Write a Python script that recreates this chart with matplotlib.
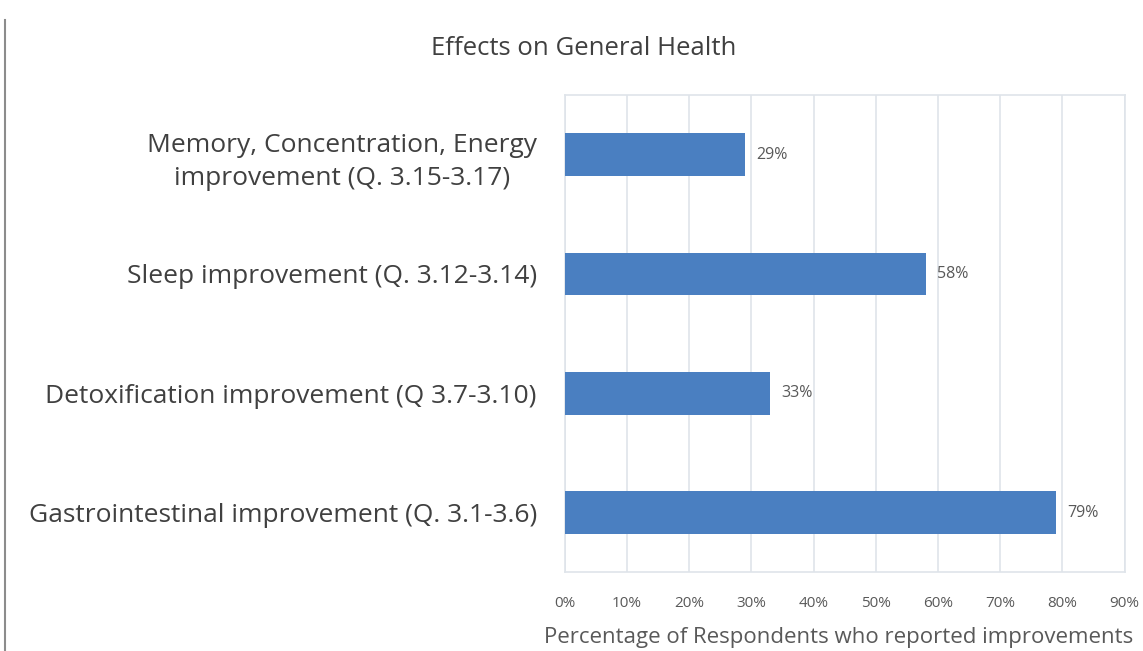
import matplotlib.pyplot as plt
from matplotlib.lines import Line2D
from matplotlib.ticker import FuncFormatter, MultipleLocator

# categories listed top to bottom
categories = [
    "Memory, Concentration, Energy\nimprovement (Q. 3.15-3.17)",
    "Sleep improvement (Q. 3.12-3.14)",
    "Detoxification improvement (Q 3.7-3.10)",
    "Gastrointestinal improvement (Q. 3.1-3.6)",
]
values = [29, 58, 33, 79]
value_labels = ["29%", "58%", "33%", "79%"]

plt.rcParams["font.family"] = ["Open Sans", "DejaVu Sans"]

BAR = "#4a7fc1"
GRID = "#dfe4ea"
TXT = "#404040"

fig = plt.figure(figsize=(11.43, 6.51), dpi=100)
ax = fig.add_axes([0.494, 0.121, 0.49, 0.733])

ypos = list(range(len(categories)))[::-1]
ax.barh(ypos, values, height=0.36, color=BAR, zorder=3)
for y, v, lab in zip(ypos, values, value_labels):
    ax.text(v + 1.8, y, lab, va="center", ha="left", fontsize=11.5, color="#595959")

ax.set_xlim(0, 90)
ax.set_ylim(-0.5, len(categories) - 0.5)
ax.xaxis.set_major_locator(MultipleLocator(10))
ax.xaxis.set_major_formatter(FuncFormatter(lambda x, _: f"{x:.0f}%"))
ax.grid(axis="x", color=GRID, linewidth=1.2, zorder=0)
for s in ax.spines.values():
    s.set_color(GRID)
    s.set_linewidth(1.2)
ax.tick_params(axis="x", length=0, pad=17, labelsize=11, labelcolor="#595959")
ax.tick_params(axis="y", length=0, pad=20, labelsize=19, labelcolor=TXT)
ax.set_yticks(ypos)
ax.set_yticklabels(categories, ha="right", multialignment="center",
                   linespacing=1.45)
ax.set_xlabel("Percentage of Respondents who reported improvements",
              fontsize=16, color="#595959")
ax.xaxis.set_label_coords(0.49, -0.136, transform=ax.transAxes)
ax.xaxis.label.set_va("center")

fig.text(0.511, 0.926, "Effects on General Health", ha="center", va="center",
         fontsize=18.5, color=TXT)

# left border line of the screenshot
fig.add_artist(Line2D([0.004, 0.004], [0.0, 0.97], color="#8c8c8c", linewidth=1.5))

fig.savefig("out.png", dpi=100)
